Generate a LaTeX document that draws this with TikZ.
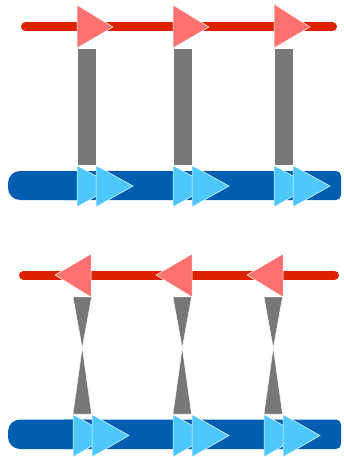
\documentclass[tikz,border=0pt]{standalone}
\definecolor{redline}{HTML}{DD2200}
\definecolor{redtri}{HTML}{FF7070}
\definecolor{grayb}{HTML}{777777}
\definecolor{blueline}{HTML}{005EB0}
\definecolor{bluetri}{HTML}{4DC8FF}
\tikzset{
  rline/.style={draw=redline,line width=9pt,line cap=round},
  bleft/.style={fill=blueline,rounded corners=12pt},
  bright/.style={fill=blueline,rounded corners=5pt},
  rtri/.style={fill=redtri,draw=white,line width=0.5pt},
  btri/.style={fill=bluetri,draw=white,line width=0.5pt},
  gshape/.style={fill=grayb,draw=white,line width=0.4pt},
}
\begin{document}
\begin{tikzpicture}[x=1pt,y=-1pt]
\useasboundingbox (0,0) rectangle (344,457);
\begin{scope}
\clip (0,0) rectangle (344,457);
% ---- top panel ----
\draw[rline] (25.5,27) -- (332.5,27);
\foreach \x/\t in {77/5,173/5,274/4} {
  \path[rtri] (\x,\t) -- (\x+36,27) -- (\x,48) -- cycle;
}
\foreach \x in {77,173,274} {
  \path[gshape] (\x,48.5) rectangle (\x+19,165);
}
\path[bleft] (8,171) rectangle (100,200);
\path[bright] (60,171) rectangle (341,200);
\foreach \x in {77,173,274} {
  \path[btri] (\x,165.5) -- (\x+37,186) -- (\x,207) -- cycle;
  \path[btri] (\x+19,165.5) -- (\x+56,186) -- (\x+19,207) -- cycle;
}
% ---- bottom panel ----
\draw[rline] (23.5,275) -- (334.5,275);
\foreach \x in {91,192,283} {
  \path[rtri] (\x,254) -- (\x-36,275) -- (\x,297) -- cycle;
}
\foreach \x in {73,173,264} {
  \path[gshape] (\x,297) -- (\x+18.5,297) -- (\x+9.25,348) -- (\x+18.5,414) -- (\x,414) -- (\x+9.25,348) -- cycle;
}
\path[bleft] (8,419.5) rectangle (100,449);
\path[bright] (60,419.5) rectangle (341,449);
\foreach \x in {73,173,264} {
  \path[btri] (\x,414.5) -- (\x+37,435.5) -- (\x,457) -- cycle;
  \path[btri] (\x+19,414.5) -- (\x+56,435.5) -- (\x+19,457) -- cycle;
}
\end{scope}
\end{tikzpicture}
\end{document}
